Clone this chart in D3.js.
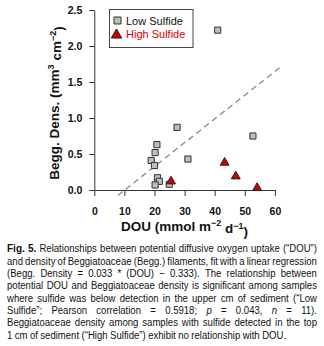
<!DOCTYPE html>
<html>
<head>
<meta charset="utf-8">
<script src="https://cdn.jsdelivr.net/npm/d3@7"></script>
<style>
  html, body { margin: 0; padding: 0; background: #fff; }
  svg { display: block; }
</style>
</head>
<body>
<div id="chart"></div>
<script>
// DOU vs. Beggiatoaceae density, split by sulfide class
var lowDou  = [41.0, 27.5, 52.7, 20.8, 20.2, 18.9, 20.0, 31.1, 21.0, 21.6, 20.2, 24.9];
var lowDens = [2.22, 0.87, 0.75, 0.63, 0.52, 0.41, 0.34, 0.43, 0.17, 0.12, 0.07, 0.08];
var highDou  = [25.5, 43.3, 47.0, 54.1];
var highDens = [0.12, 0.38, 0.19, 0.03];

var xTicks = [0, 10, 20, 30, 40, 50, 60];
var yTicks = [0, 0.5, 1.0, 1.5, 2.0, 2.5];

// linear fit: Begg. Density = 0.033 * DOU - 0.333
var fitSlope = 0.033, fitIntercept = -0.333;

var legendLabels = ["Low Sulfide", "High Sulfide"];

var width = 324, height = 346;
var font = "'Liberation Sans', Arial, sans-serif";

var svg = d3.select("#chart").append("svg")
    .attr("width", width)
    .attr("height", height);

var x = d3.scaleLinear().domain([0, 60]).range([94.3, 274.9]);
var y = d3.scaleLinear().domain([0, 2.5]).range([190, 10]);

// plotting region (R style, 4% padding) used to clip the fit line
var xLim = [-2.4, 62.4], yLim = [-0.1, 2.6];
svg.append("clipPath").attr("id", "plotArea")
  .append("rect")
    .attr("x", x(xLim[0]))
    .attr("y", y(yLim[1]))
    .attr("width", x(xLim[1]) - x(xLim[0]))
    .attr("height", y(yLim[0]) - y(yLim[1]));

// regression line
svg.append("line")
    .attr("clip-path", "url(#plotArea)")
    .attr("x1", x(0)).attr("y1", y(fitIntercept))
    .attr("x2", x(xLim[1])).attr("y2", y(fitSlope * xLim[1] + fitIntercept))
    .style("stroke", "#8a8a8a")
    .style("stroke-width", 1.3)
    .style("stroke-dasharray", "6,4");

// axes crossing at the origin
var yAxis = svg.append("g")
    .attr("transform", "translate(" + x(0) + ",0)")
    .call(d3.axisLeft(y).tickValues(yTicks).tickSize(5).tickSizeOuter(0)
      .tickPadding(7).tickFormat(d3.format(".1f")));
var xAxis = svg.append("g")
    .attr("transform", "translate(0," + y(0) + ")")
    .call(d3.axisBottom(x).tickValues(xTicks).tickSize(6).tickSizeOuter(0)
      .tickPadding(11.5));

[xAxis, yAxis].forEach(function(g) {
  g.selectAll("path, line").style("stroke", "#333").style("stroke-width", 1);
  g.selectAll("text")
    .style("font-family", font)
    .style("font-weight", "bold")
    .style("font-size", "10.5px")
    .style("fill", "#111");
});

// points
var square = d3.symbol(d3.symbolSquare, 38);
var triangle = d3.symbol(d3.symbolTriangle, 34);

svg.append("g").selectAll("path")
  .data(d3.range(lowDou.length))
  .enter().append("path")
    .attr("d", square)
    .attr("transform", function(i) { return "translate(" + x(lowDou[i]) + "," + y(lowDens[i]) + ")"; })
    .style("fill", "#bdbdbd")
    .style("stroke", "#333")
    .style("stroke-width", 1);

svg.append("g").selectAll("path")
  .data(d3.range(highDou.length))
  .enter().append("path")
    .attr("d", triangle)
    .attr("transform", function(i) { return "translate(" + x(highDou[i]) + "," + y(highDens[i]) + ")"; })
    .style("fill", "#d00000")
    .style("stroke", "#222")
    .style("stroke-width", 1);

// axis titles
var yTitle = svg.append("text")
    .attr("transform", "translate(58.5,103) rotate(-90)")
    .attr("text-anchor", "middle")
    .style("font-family", font)
    .style("font-weight", "bold")
    .style("font-size", "13.5px")
    .style("fill", "#111");
yTitle.append("tspan").text("Begg. Dens. (mm");
yTitle.append("tspan").attr("dy", "-0.55em").style("font-size", "9px").text("3");
yTitle.append("tspan").attr("dy", "0.55em").text(" cm");
yTitle.append("tspan").attr("dy", "-0.55em").style("font-size", "9px").text("−2");
yTitle.append("tspan").attr("dy", "0.55em").text(")");

var xTitle = svg.append("text")
    .attr("x", x(30)).attr("y", 231)
    .attr("text-anchor", "middle")
    .style("font-family", font)
    .style("font-weight", "bold")
    .style("font-size", "13.5px")
    .style("fill", "#111");
xTitle.append("tspan").text("DOU (mmol m");
xTitle.append("tspan").attr("dy", "-0.55em").style("font-size", "9px").text("−2");
xTitle.append("tspan").attr("dy", "0.55em").text(" d");
xTitle.append("tspan").attr("dy", "-0.55em").style("font-size", "9px").text("−1");
xTitle.append("tspan").attr("dy", "0.55em").text(")");

// legend
var lg = svg.append("g");
lg.append("rect")
    .attr("x", 109.5).attr("y", 9.5)
    .attr("width", 83.5).attr("height", 38)
    .style("fill", "#fff")
    .style("stroke", "#444");
lg.append("path")
    .attr("d", d3.symbol(d3.symbolSquare, 49))
    .attr("transform", "translate(117.5,20.5)")
    .style("fill", "#bdbdbd").style("stroke", "#333");
lg.append("path")
    .attr("d", d3.symbol(d3.symbolTriangle, 48))
    .attr("transform", "translate(116.5,35)")
    .style("fill", "#d00000").style("stroke", "#222");
lg.selectAll("text.lab")
  .data(legendLabels)
  .enter().append("text")
    .attr("class", "lab")
    .attr("x", 126)
    .attr("y", function(d, i) { return 24.5 + i * 13.5; })
    .text(function(d) { return d; })
    .style("font-family", font)
    .style("font-size", "11px")
    .style("fill", function(d, i) { return i ? "#e00000" : "#111"; });

// caption, justified word by word; *bold* and _italic_ words
var capLines = [
  "*Fig.* *5.* Relationships between potential diffusive oxygen uptake (“DOU”)",
  "and density of Beggiatoaceae (Begg.) filaments, fit with a linear regression",
  "(Begg. Density = 0.033 * (DOU) − 0.333). The relationship between",
  "potential DOU and Beggiatoaceae density is significant among samples",
  "where sulfide was below detection in the upper cm of sediment (“Low",
  "Sulfide”; Pearson correlation = 0.5918; _p_ = 0.043, _n_ = 11).",
  "Beggiatoaceae density among samples with sulfide detected in the top",
  "1 cm of sediment (“High Sulfide”) exhibit no relationship with DOU."
];
var capLeft = 7, capRight = 317, capTop = 252.5, capStep = 12.3;

// the caption face is condensed: squeeze a regular sans horizontally
var cap = svg.append("g")
    .style("font-family", font)
    .style("font-size", "11px")
    .style("fill", "#111");

var spaceW = 11 * 0.278;
var rows = capLines.map(function(line, li) {
  var words = line.split(" ");
  var nodes = words.map(function(w) {
    var t = cap.append("text").attr("y", capTop + li * capStep);
    if (/^\*.*\*$/.test(w)) {
      t.text(w.slice(1, -1)).style("font-weight", "bold").style("font-size", "11.5px");
    } else if (/^_.*_$/.test(w)) {
      t.text(w.slice(1, -1)).style("font-style", "italic");
    } else {
      t.text(w);
    }
    return t;
  });
  var widths = nodes.map(function(t) { return t.node().getComputedTextLength(); });
  return { nodes: nodes, widths: widths };
});

// widest justified line sets the squeeze
var natural = d3.max(rows.slice(0, -1), function(r) {
  return d3.sum(r.widths) + spaceW * 0.8 * (r.widths.length - 1);
});
var sx = Math.min(1, (capRight - capLeft) / natural);
var avail = (capRight - capLeft) / sx;
cap.attr("transform", "translate(" + capLeft + ",0) scale(" + sx + ",1)");

rows.forEach(function(r, li) {
  var last = li === rows.length - 1;
  var total = d3.sum(r.widths);
  var gap = last ? spaceW * 0.9 : (avail - total) / (r.widths.length - 1);
  var cx = 0;
  r.nodes.forEach(function(t, i) {
    t.attr("x", cx);
    cx += r.widths[i] + gap;
  });
});
</script>
</body>
</html>
